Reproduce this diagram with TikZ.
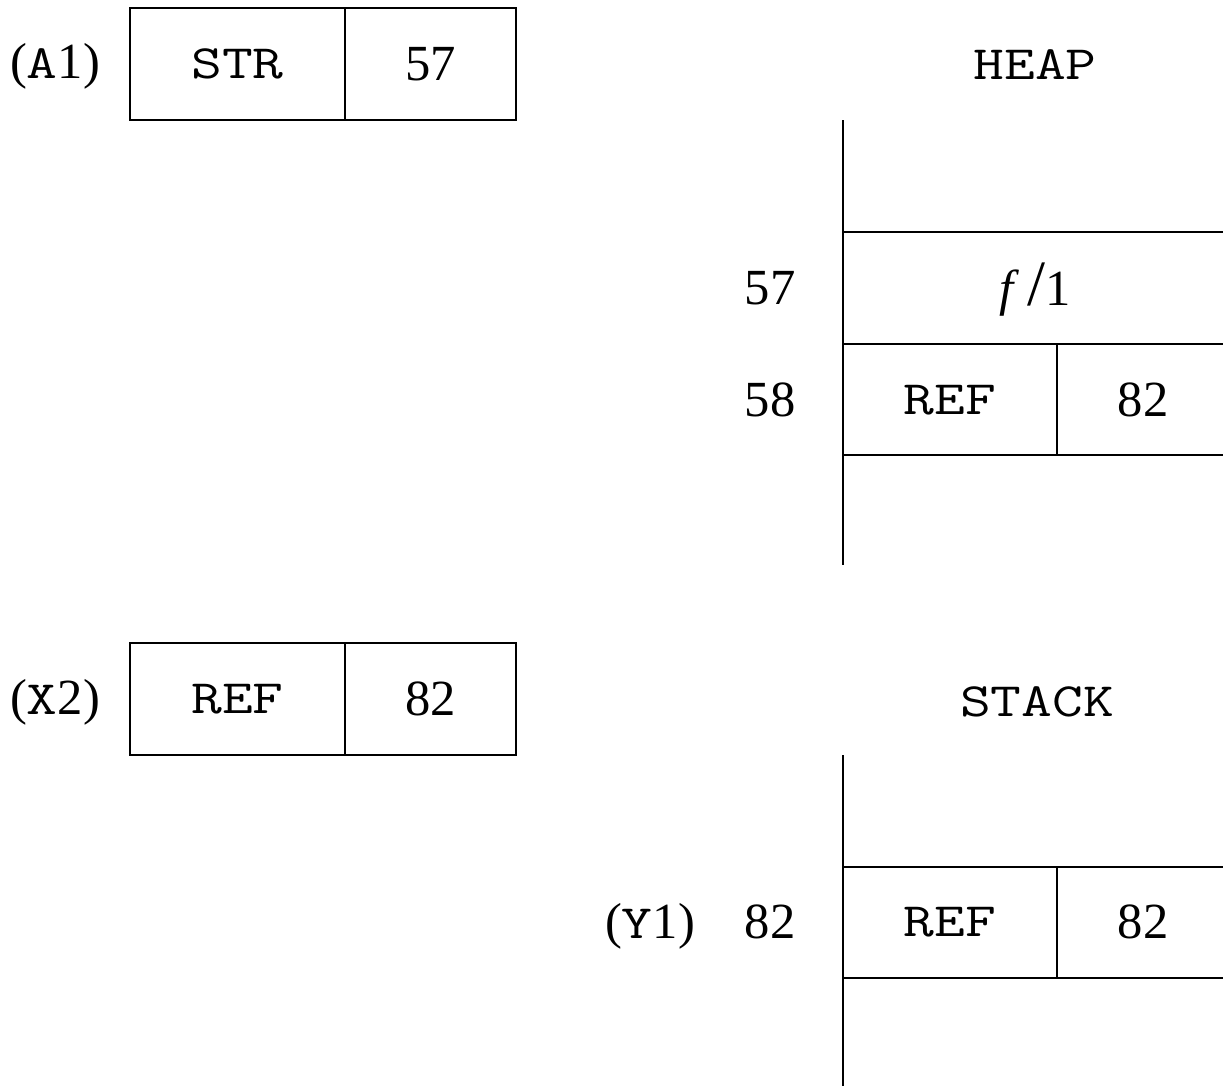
\documentclass[tikz,border=0pt]{standalone}
\usepackage{fontspec}
\setmainfont{Liberation Serif}
\setmonofont[FakeStretch=1.25]{Latin Modern Mono}
\usetikzlibrary{positioning}

\newcommand{\cellfont}{\fontsize{36}{43}\selectfont}
\newcommand{\tagfont}{\fontsize{34}{41}\selectfont\ttfamily}

\begin{document}
\begin{tikzpicture}[
		x=0.025cm, y=-0.025cm,
		every node/.style={font=\cellfont, inner sep=0pt},
		cell/.style={draw, line width=1.4pt, outer sep=0pt, minimum height=2.8cm},
		tagcell/.style={cell, minimum width=5.375cm, font=\tagfont},
		valcell/.style={cell, minimum width=4.275cm},
		spine/.style={line width=2pt},
		row/.style={line width=1.4pt},
		tag/.style={font=\tagfont},
		title/.style={font=\tagfont}
	]
		\useasboundingbox (0,0) rectangle (1223,1086);

		% registers
		\node[tagcell, anchor=north west] (a1tag) at (130,8) {STR};
		\node[valcell, right=0pt of a1tag] (a1val) {57};
		\node (a1lbl) at (55,66) {({\tagfont A}1)};

		\node[tagcell, anchor=north west] (x2tag) at (130,643) {REF};
		\node[valcell, right=0pt of x2tag] (x2val) {82};
		\node (x2lbl) at (55,702) {({\tagfont X}2)};

		% heap
		\node[title] (heap) at (1035,65) {HEAP};
		\draw[spine] (843,120) -- (843,565);
		\foreach \y in {232,344,455}
			\draw[row] (843,\y) -- (1223,\y);
		\draw[row] (1057,344) -- (1057,455);
		\node (h57) at (770,288) {57};
		\node (hfun) at (1035,290) {\textit{f}\,{\fontsize{46}{46}\selectfont /}1};
		\node (h58) at (770,400) {58};
		\node[tag] (h58tag) at (950,400) {REF};
		\node (h58val) at (1143,400) {82};

		% stack
		\node[title] (stack) at (1037,702) {STACK};
		\draw[spine] (843,755) -- (843,1086);
		\foreach \y in {867,978}
			\draw[row] (843,\y) -- (1223,\y);
		\draw[row] (1057,867) -- (1057,978);
		\node (y1lbl) at (650,926) {({\tagfont Y}1)};
		\node (s82) at (770,922) {82};
		\node[tag] (s82tag) at (950,922) {REF};
		\node (s82val) at (1143,922) {82};
	\end{tikzpicture}
\end{document}
